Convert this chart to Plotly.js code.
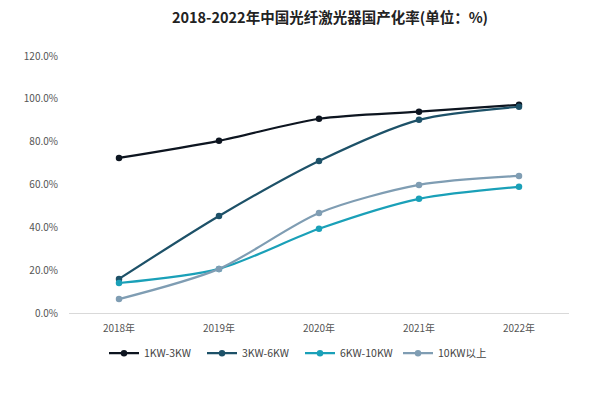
<!DOCTYPE html>
<html><head><meta charset="utf-8">
<script src="https://cdn.plot.ly/plotly-3.0.1.min.js"></script>
<style>html,body{margin:0;padding:0;background:#fff}#c{width:600px;height:397px}</style>
</head><body><div id="c"></div>
<script>
const years = ["2018年","2019年","2020年","2021年","2022年"];
const s1 = [72.4, 80.4, 90.7, 94.0, 97.2];
const s2 = [15.9, 45.3, 71.0, 90.2, 96.3];
const s3 = [14.0, 20.6, 39.3, 53.3, 58.9];
const s4 = [6.5, 20.6, 46.7, 59.8, 64.0];
const names = ["1KW-3KW","3KW-6KW","6KW-10KW","10KW以上"];
const colors = ["#0d1520","#1d5168","#1aa0b8","#7f9db3"];
const series = [s1,s2,s3,s4];
const traces = series.map((s,i)=>({
  x: years, y: s, name: names[i], type:'scatter', mode:'lines+markers',
  line:{color:colors[i], width:2.2, shape:'spline', smoothing:0.8},
  marker:{color:colors[i], size:6.5}
}));
const layout = {
  width:600, height:397,
  margin:{l:69, r:31, t:56, b:84},
  paper_bgcolor:'#fff', plot_bgcolor:'#fff',
  font:{family:'"Noto Sans CJK SC", "Open Sans", sans-serif', color:'#555', size:10},
  title:{text:'<b>2018-2022年中国光纤激光器国产化率(单位：%)</b>', x:0.55, xanchor:'center', y:0.955, yanchor:'middle',
    font:{size:14.5, color:'#222', family:'"Noto Sans CJK SC", sans-serif'}},
  xaxis:{type:'category', showgrid:false, showline:true, linecolor:'#d9d9d9', linewidth:1, ticks:'', ticklabelstandoff:6, tickfont:{size:10,color:'#555'}, range:[-0.5,4.5]},
  yaxis:{range:[0,120], dtick:20, ticksuffix:'.0%', showgrid:false, zeroline:false, showline:false, tickfont:{size:10,color:'#555'}, ticklen:8, ticks:'outside', tickcolor:'#fff'},
  legend:{orientation:'h', x:0.07, xanchor:'left', y:-0.10, yanchor:'top', font:{size:10.5,color:'#444'}, itemwidth:30, entrywidth:53, entrywidthmode:'pixels'},
  showlegend:true
};
Plotly.newPlot('c', traces, layout, {displayModeBar:false, staticPlot:true});
</script></body></html>
